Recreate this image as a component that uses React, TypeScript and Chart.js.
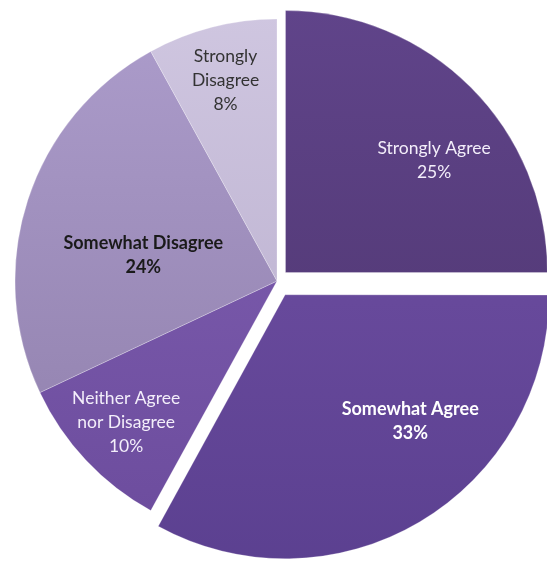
import React, { useEffect, useRef } from "react";
import { Chart, registerables } from "chart.js";

Chart.register(...registerables);

const categories = [
  "Strongly Agree",
  "Somewhat Agree",
  "Neither Agree nor Disagree",
  "Somewhat Disagree",
  "Strongly Disagree",
];
const percentValues = [25, 33, 10, 24, 8];
const labelLines = [
  ["Strongly Agree", "25%"],
  ["Somewhat Agree", "33%"],
  ["Neither Agree", "nor Disagree", "10%"],
  ["Somewhat Disagree", "24%"],
  ["Strongly", "Disagree", "8%"],
];

// styling (not data)
const topColors = ["#60448a", "#7352a6", "#8262b4", "#ac9ccb", "#cfc6e0"];
const bottomColors = ["#4c346c", "#5b4090", "#6b4b9c", "#8d7da9", "#b5aaca"];
const explodeOffsets = [48, 64, 0, 0, 0];
const labelBold = [false, true, false, true, false];
const labelColor = ["#f3eefa", "#ffffff", "#f3eefa", "#1a1a1a", "#333333"];
const labelRadiusFrac = [0.71, 0.68, 0.79, 0.52, 0.79];
const labelAngleShift = [8, -14, 0, -7, 0];

const labelPlugin = {
  id: "sliceLabels",
  afterDatasetsDraw(chart: any) {
    const ctx = chart.ctx;
    const meta = chart.getDatasetMeta(0);
    meta.data.forEach((arc: any, i: number) => {
      const { x, y, startAngle, endAngle, outerRadius } = arc.getProps(
        ["x", "y", "startAngle", "endAngle", "outerRadius"],
        true
      );
      const mid = (startAngle + endAngle) / 2;
      const off = (arc.options.offset || 0) / 4;
      const cx = x + Math.cos(mid) * off;
      const cy = y + Math.sin(mid) * off;
      const a = mid + (labelAngleShift[i] * Math.PI) / 180;
      const r = outerRadius * labelRadiusFrac[i];
      const lx = cx + Math.cos(a) * r;
      const ly = cy + Math.sin(a) * r;
      const lines = labelLines[i];
      const lh = 24;
      ctx.save();
      ctx.font = labelBold[i]
        ? `bold 18px Lato, "Open Sans", sans-serif`
        : `17.5px Lato, "Open Sans", sans-serif`;
      ctx.fillStyle = labelColor[i];
      ctx.textAlign = "center";
      ctx.textBaseline = "middle";
      const startY = ly - ((lines.length - 1) * lh) / 2;
      lines.forEach((t: string, k: number) => ctx.fillText(t, lx, startY + k * lh));
      ctx.restore();
    });
  },
};

export default function App() {
  const ref = useRef<HTMLCanvasElement | null>(null);
  useEffect(() => {
    if (!ref.current) return;
    const canvas = ref.current;
    const c2d = canvas.getContext("2d")!;
    const fills = topColors.map((tc, i) => {
      const g = c2d.createLinearGradient(0, 15, 0, 560);
      g.addColorStop(0, tc);
      g.addColorStop(1, bottomColors[i]);
      return g;
    });
    const chart = new Chart(canvas, {
      type: "pie",
      data: {
        labels: categories,
        datasets: [
          {
            data: percentValues,
            backgroundColor: fills,
            borderColor: "rgba(255,255,255,0.25)",
            borderWidth: 1,
            offset: explodeOffsets,
          },
        ],
      },
      options: {
        responsive: false,
        animation: false,
        radius: 262,
        layout: { padding: { left: 7, top: 1, right: 0, bottom: 0 } },
        plugins: {
          legend: { display: false },
          tooltip: { enabled: false },
        },
      } as any,
      plugins: [labelPlugin],
    });
    return () => chart.destroy();
  }, []);
  return (
    <div style={{ position: "absolute", left: 0, top: 0, width: 547, height: 561, background: "#fff" }}>
      <canvas ref={ref} width={547} height={561} style={{ display: "block" }} />
    </div>
  );
}
